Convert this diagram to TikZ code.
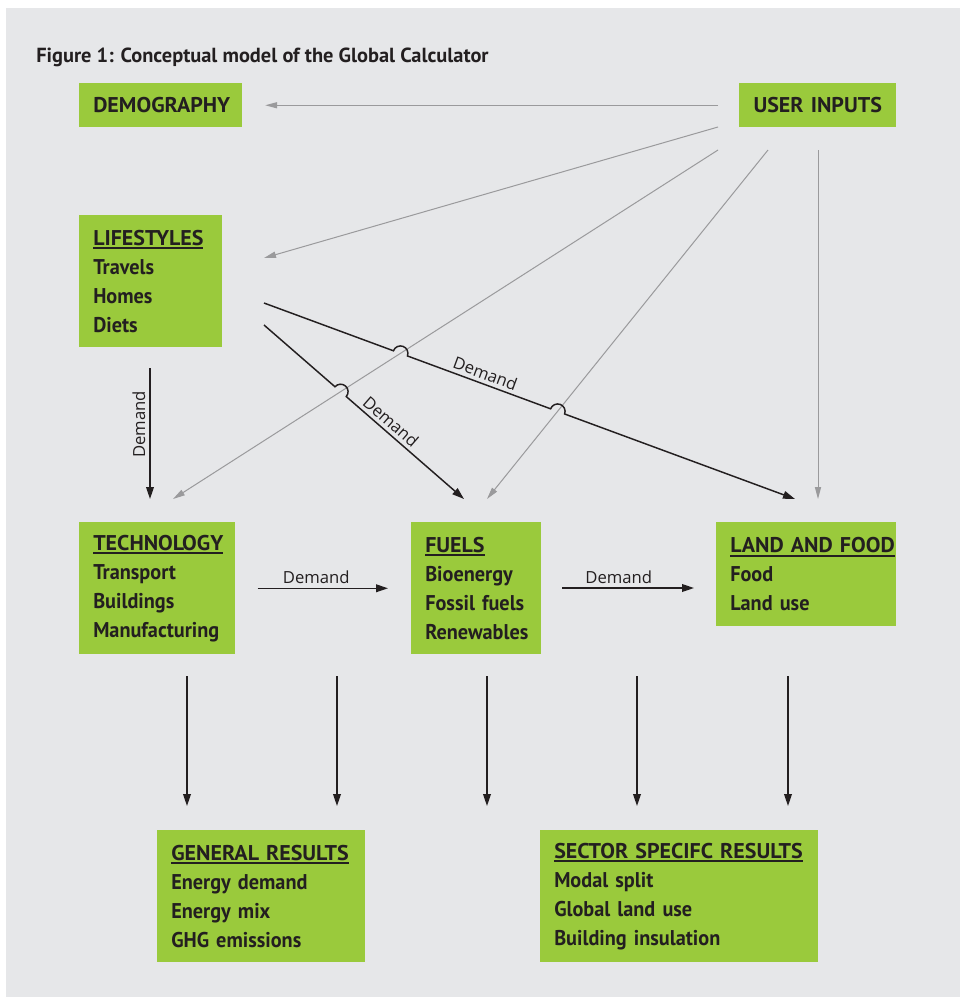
\documentclass[tikz,border=0pt]{standalone}
\usepackage{fontspec}
\setmainfont{PT Sans}[FakeStretch=0.95]
\newfontfamily\titlefont{PT Sans}
\newfontfamily\capfont{PT Sans}[FakeStretch=1.03]
\newfontfamily\lblfont{Open Sans}
\usetikzlibrary{arrows.meta,calc}
\definecolor{gcgreen}{HTML}{9ACA3C}
\definecolor{gcbg}{HTML}{E6E7E9}
\definecolor{gcink}{HTML}{231F20}
\definecolor{gcgray}{HTML}{9A9A9C}
\newcommand{\hd}[1]{\setbox0\hbox{\capfont #1}\rlap{\rule[-3pt]{\wd0}{1.4pt}}\box0}
\newcommand{\hopr}{5.6pt}
\newcommand{\boxfont}{\fontsize{16}{21.75}\selectfont\bfseries\hyphenpenalty10000\relax}
\tikzset{
  box/.style  = {fill=gcgreen, text=gcink, anchor=north west, align=left,
                 inner xsep=10.5pt, inner ysep=0pt, font=\boxfont},
  ibox/.style = {box, align=center, minimum height=33pt, font=\boxfont\capfont},
  ar/.style   = {-{Triangle[length=9pt,width=5.8pt]}, line width=1.1pt, draw=gcink},
  gar/.style  = {-{Triangle[length=9pt,width=4.6pt]}, line width=0.75pt, draw=gcgray},
  lbl/.style  = {font=\lblfont\fontsize{12.5}{14}\selectfont, text=gcink, inner sep=3pt},
}

\begin{document}
\begin{tikzpicture}[x=0.75pt, y=0.75pt]
  \useasboundingbox (0,0) rectangle (960,-997);
  \fill[white] (0,0) rectangle (960,-997);
  \fill[gcbg] (6,-8) rectangle (960,-997);

  \node[font=\titlefont\fontsize{15.3}{17}\selectfont\bfseries, text=gcink,
        anchor=base west, inner sep=0pt] (title) at (36,-62)
     {Figure 1: Conceptual model of the Global Calculator};

  % boxes
  \node[ibox, text width=101.25pt] (demo) at (79,-83) {DEMOGRAPHY};
  \node[ibox, text width=96.75pt] (userin) at (739,-83) {USER INPUTS};
  \node[box, text width=86.25pt, minimum height=99pt] (life) at (79,-215)
     {\hd{LIFESTYLES}\\Travels\\Homes\\Diets};
  \node[box, text width=96pt, minimum height=99pt] (tech) at (79,-522)
     {\hd{TECHNOLOGY}\\Transport\\Buildings\\Manufacturing};
  \node[box, text width=76.5pt, minimum height=99pt] (fuels) at (411,-522)
     {\hd{FUELS}\\Bioenergy\\Fossil~fuels\\Renewables};
  \node[box, text width=114pt, minimum height=78pt] (land) at (716,-522)
     {\hd{LAND AND FOOD}\\Food\\Land use};
  \node[box, text width=135pt, minimum height=99pt] (genres) at (157,-830)
     {\hd{GENERAL RESULTS}\\Energy demand\\Energy mix\\GHG emissions};
  \node[box, text width=187.5pt, minimum height=99pt] (secres) at (540,-830)
     {\hd{SECTOR SPECIFC RESULTS}\\Modal split\\Global land use\\Building insulation};

  % user inputs fan
  \coordinate (u2) at (718,-127);
  \coordinate (u3) at (718,-150);
  \coordinate (u4) at (768,-150);
  \coordinate (u5) at (818,-150);
  \coordinate (lifein) at (264,-258);
  \coordinate (techin) at (173,-499);
  \coordinate (fuelin) at (487,-499);
  \coordinate (landin) at (818,-499);
  \draw[gar, shorten <=15.75pt, shorten >=17pt] (userin.west) -- (demo.east);
  \draw[gar] (u2) -- (lifein);
  \draw[gar] (u3) -- (techin);
  \draw[gar] (u4) -- (fuelin);
  \draw[gar] (u5) -- (landin);

  % demand from lifestyles
  \coordinate (lt0) at (150,-368);
  \coordinate (lt1) at (150,-499);
  \coordinate (hm0) at (264,-303);
  \coordinate (hm1) at (795,-499);
  \coordinate (dt0) at (264,-325);
  \coordinate (dt1) at (464,-499);
  \coordinate (xa) at (intersection of u3--techin and hm0--hm1);
  \coordinate (xb) at (intersection of u4--fuelin and hm0--hm1);
  \coordinate (xc) at (intersection of u3--techin and dt0--dt1);
  \draw[ar] (lt0) -- node[lbl, rotate=90, anchor=south, pos=0.43] {Demand} (lt1);
  \draw[ar] let \p1=($(hm1)-(hm0)$), \n1={atan2(\y1,\x1)} in
    (hm0) -- ($(xa)!\hopr!(hm0)$) arc[start angle=\n1+180, end angle=\n1, radius=\hopr]
    -- ($(xb)!\hopr!(hm0)$) arc[start angle=\n1+180, end angle=\n1, radius=\hopr]
    -- (hm1);
  \draw[ar] let \p1=($(dt1)-(dt0)$), \n1={atan2(\y1,\x1)} in
    (dt0) -- ($(xc)!\hopr!(dt0)$) arc[start angle=\n1+180, end angle=\n1, radius=\hopr]
    -- (dt1);
  \path (hm0) -- node[lbl, sloped, above, pos=0.41] {Demand} (hm1);
  \path (dt0) -- node[lbl, sloped, above, pos=0.6] {Demand} (dt1);

  % demand between sectors
  \coordinate (fl0) at (562,-588);
  \coordinate (fl1) at (694,-588);
  \draw[ar, shorten <=16.5pt, shorten >=17.25pt] (tech.east) --
     node[lbl, above, pos=0.46] {Demand} (fuels.west);
  \draw[ar] (fl0) -- node[lbl, above, pos=0.43] {Demand} (fl1);

  % down to results
  \foreach \x [count=\i] in {187,337,487,637,788} {
    \coordinate (rs\i) at (\x,-676);
    \coordinate (re\i) at (\x,-806);
    \draw[ar] (rs\i) -- (re\i);
  }
\end{tikzpicture}
\end{document}
